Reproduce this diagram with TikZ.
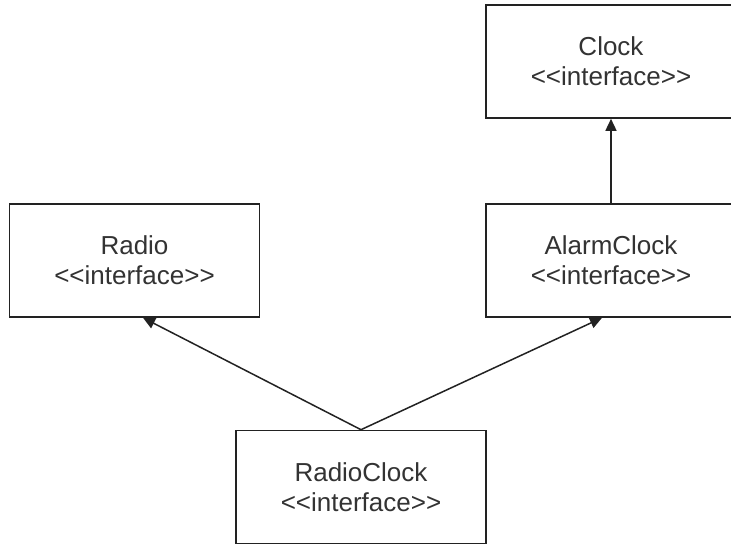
\documentclass[tikz,border=0pt]{standalone}
\usepackage{fontspec}
\setmainfont{Liberation Sans}
\usetikzlibrary{arrows.meta}
\definecolor{linecol}{HTML}{222222}
\definecolor{textcol}{HTML}{333333}
\newcommand{\ifacetag}{<{}<interface>{}>}
\tikzset{
  iface/.style={draw=linecol, line width=1.6pt, fill=white, minimum width=250pt, minimum height=113pt,
    inner sep=0pt, align=center, text=textcol, font=\fontsize{26}{30}\selectfont},
  inherit/.style={draw=linecol, line width=1.5pt, -{Triangle[length=12pt,width=11pt]}}
}
\begin{document}
\begin{tikzpicture}[x=1pt,y=-1pt]
\useasboundingbox (0,0) rectangle (731,545);
\clip (0,0) rectangle (731,545);
\node[iface] (clock) at (611,61.5) {Clock\\\ifacetag};
\node[iface] (radio) at (134.5,260.5) {Radio\\\ifacetag};
\node[iface] (alarm) at (611,260.5) {AlarmClock\\\ifacetag};
\node[iface] (rc) at (361,487) {RadioClock\\\ifacetag};
\draw[inherit] (rc.north) -- ([xshift=8.5pt]radio.south);
\draw[inherit] (rc.north) -- ([xshift=-9pt]alarm.south);
\draw[inherit] (alarm.north) -- (clock.south);
\end{tikzpicture}
\end{document}
